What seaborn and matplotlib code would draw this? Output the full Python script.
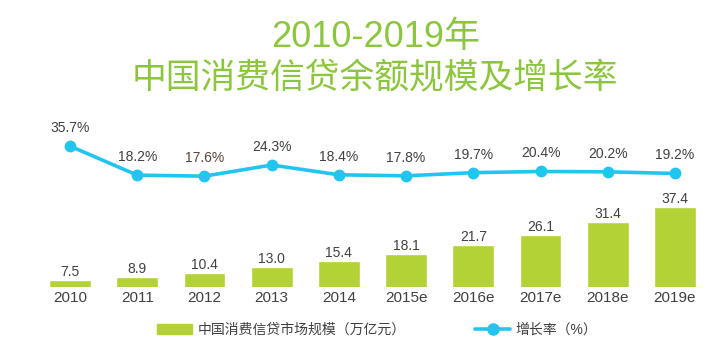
import matplotlib
matplotlib.use("Agg")
import matplotlib.pyplot as plt
import seaborn as sns
import pandas as pd
from matplotlib.patches import Patch
from matplotlib.lines import Line2D

years = ["2010", "2011", "2012", "2013", "2014", "2015e", "2016e", "2017e", "2018e", "2019e"]
scale = [7.5, 8.9, 10.4, 13.0, 15.4, 18.1, 21.7, 26.1, 31.4, 37.4]
growth = [35.7, 18.2, 17.6, 24.3, 18.4, 17.8, 19.7, 20.4, 20.2, 19.2]
title1 = "2010-2019年"
title2 = "中国消费信贷余额规模及增长率"
legend_bar = "中国消费信贷市场规模（万亿元）"
legend_line = "增长率（%）"

sns.set_theme(style="white")
plt.rcParams['font.family'] = ['Liberation Sans', 'Noto Sans CJK SC', 'DejaVu Sans']

BAR_C = "#B2D235"
LINE_C = "#22C5EE"
TITLE_C = "#8CC63F"
TXT_C = "#404040"

df = pd.DataFrame({"year": years, "scale": scale, "growth": growth})

fig = plt.figure(figsize=(7.12, 3.46), dpi=100)
W, H = 712, 346
left = 36.4 / W
width = 672.2 / W
bottom = 1 - 287 / H
height = 157 / H
ax = fig.add_axes([left, bottom, width, height])
sns.barplot(data=df, x="year", y="scale", color=BAR_C, width=0.62, ax=ax, saturation=1)
ax.set_ylim(4.63, 68.97)
ax.set_xlim(-0.5, 9.5)
for i, v in enumerate(scale):
    ax.text(i, v + 0.4, f"{v:.1f}", ha="center", va="bottom", fontsize=10, color=TXT_C)
ax.set_xlabel("")
ax.set_ylabel("")
ax.set_yticks([])
ax.tick_params(axis="x", length=0, labelsize=11, colors=TXT_C, pad=3)
for s in ax.spines.values():
    s.set_visible(False)

ax2 = ax.twinx()
sns.lineplot(x=list(range(len(years))), y=growth, ax=ax2, color=LINE_C, linewidth=2.6,
             marker="o", markersize=8.5, markeredgewidth=0)
ax2.set_ylim(-49.2, 45.4)
ax2.set_xlim(-0.5, 9.5)
ax2.set_yticks([])
for s in ax2.spines.values():
    s.set_visible(False)
for i, v in enumerate(growth):
    c = "#5A4438" if i == 2 else TXT_C
    ax2.annotate(f"{v:.1f}%", (i, v), xytext=(0, 13), textcoords="offset points",
                 ha="center", va="center", fontsize=10, color=c)

fig.text(0.527, 1 - 37 / H, title1, ha="center", va="center", fontsize=26, color=TITLE_C)
fig.text(0.527, 1 - 79 / H, title2, ha="center", va="center", fontsize=25, color=TITLE_C)

handles = [Patch(color=BAR_C), Line2D([0], [0], color=LINE_C, linewidth=2.6, marker="o", markersize=8)]
fig.legend(handles, [legend_bar, legend_line], loc="center", bbox_to_anchor=(0.53, 1 - 330 / H),
           ncol=2, frameon=False, fontsize=10, handlelength=2.5, columnspacing=5,
           labelcolor=TXT_C, handletextpad=0.4)

fig.savefig("out.png", dpi=100)
